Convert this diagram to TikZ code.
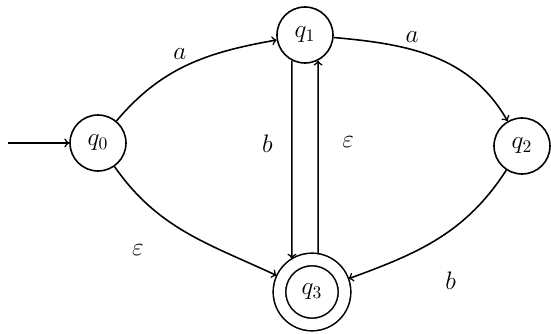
\documentclass[tikz,border=0pt]{standalone}
\usetikzlibrary{positioning}
\begin{document}
\begin{tikzpicture}[
    font=\Large,
    st/.style={draw, circle, line width=0.9pt, minimum size=1.12cm, inner sep=0pt},
    acc/.style={st, double, double distance=0.22cm, minimum size=1.3cm,
                outer sep=0.13cm},
    fl/.style={->, >=to, line width=0.9pt},
    lbl/.style={inner sep=2pt}
]
  \useasboundingbox (0,0) rectangle (11.02,6.66);

  % ================= states =================
  \node[st]  (q0) at (1.96,3.80)  {$q_0$};
  \node[st]  (q1) at (6.10,5.96)  {$q_1$};
  \node[st]  (q2) at (10.44,3.74) {$q_2$};
  \node[acc] (q3) at (6.24,0.82)  {$q_3$};
  \coordinate (start) at (0.16,3.80);

  % ================= transitions =================
  \draw[fl] (start) -- (q0.west);

  \draw[fl] (q0) to[out=50, in=190]
      node[lbl, pos=0.52, above left] {$a$} (q1);
  \draw[fl] (q1) to[out=-5, in=120]
      node[lbl, pos=0.32, above right] {$a$} (q2);
  \draw[fl] (q0) to[out=-55, in=155]
      node[lbl, pos=0.38, below left=0.55cm] {$\varepsilon$} (q3);
  \draw[fl] (q2) to[out=-123, in=20]
      node[lbl, pos=0.42, below=0.75cm] {$b$} (q3);

  % q1 <-> q3
  \draw[fl] (q1.243) -- (q3.121)
      node[lbl, pos=0.42, left=0.3cm] {$b$};
  \draw[fl] (q3.81) -- (q1.297)
      node[lbl, pos=0.58, right=0.4cm] {$\varepsilon$};

\end{tikzpicture}
\end{document}
